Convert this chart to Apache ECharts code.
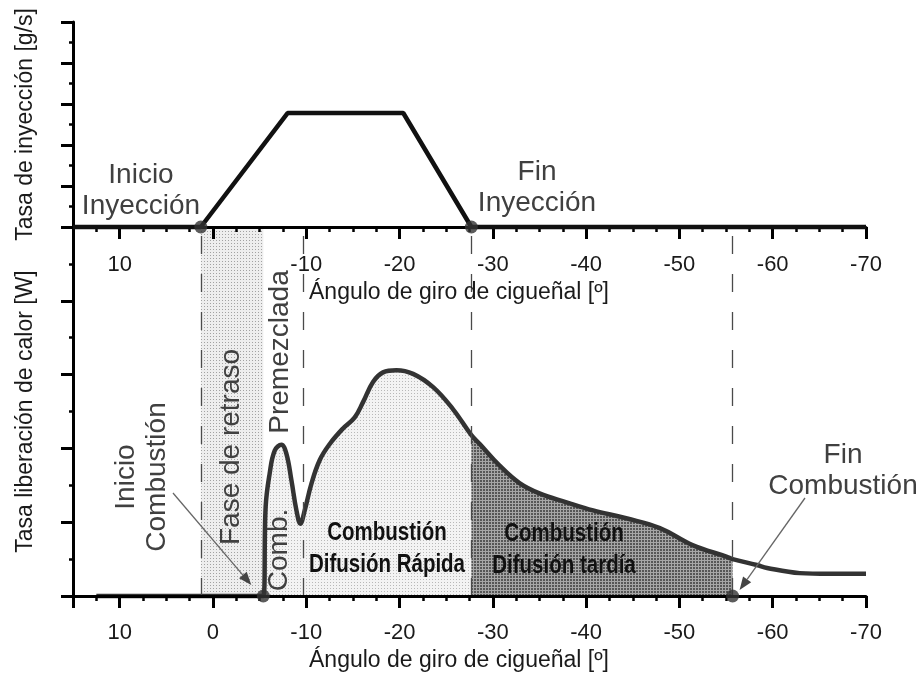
<!DOCTYPE html>
<html>
<head>
<meta charset="utf-8">
<script src="https://cdn.jsdelivr.net/npm/echarts@6/dist/echarts.min.js"></script>
<style>
  html, body { margin: 0; padding: 0; background: #fff; }
  #chart { width: 921px; height: 675px; }
</style>
</head>
<body>
<div id="chart"></div>
<script>
// Crank angle [deg] vs. injection rate (upper panel)
const injectionAngles = [15, 1.3, -8.0, -20.4, -27.7, -70];
const injectionRate   = [0, 0, 2.78, 2.78, 0, 0];

// Crank angle [deg] vs. heat release rate (lower panel)
const heatAngles = [12.5, -5.0, -5.4, -5.65, -6.08, -6.62, -7.34, -7.87, -8.41, -8.95, -9.37,
  -9.84, -10.55, -11.44, -12.52, -13.94, -15.2, -16.1, -17.16, -18.23, -19.67,
  -21.45, -23.6, -25.74, -27.7, -28.6, -30.7, -32.86, -35.0, -37.9, -40.75,
  -44.4, -47.9, -51.4, -55.1, -55.7, -58.3, -59.4, -62.9, -66.0, -70];
const heatRelease = [0, 0, 0, 1.21, 1.66, 1.97, 2.05, 1.93, 1.57, 1.16, 0.98,
  1.16, 1.52, 1.84, 2.06, 2.27, 2.42, 2.63, 2.90, 3.03, 3.06,
  3.01, 2.83, 2.53, 2.18, 2.06, 1.77, 1.53, 1.39, 1.27, 1.16,
  1.05, 0.92, 0.69, 0.53, 0.50, 0.42, 0.38, 0.31, 0.30, 0.30];

// Characteristic events [deg]
const injectionStart = 1.3;
const injectionEnd = -27.7;
const combustionStart = -5.4;
const premixEnd = -9.7;
const combustionEnd = -55.7;
const phaseLines = [injectionStart, premixEnd, injectionEnd, combustionEnd];

// Tick labels shown on each angle axis
const upperAngleLabels = [10, -10, -20, -30, -40, -50, -60, -70];
const lowerAngleLabels = [10, 0, -10, -20, -30, -40, -50, -60, -70];

const FONT = 'Liberation Sans, Arial, Helvetica, sans-serif';
const SMOOTH = 0.4;

// Small stipple tiles for the shaded phases
function tile(bg, fg, pixels, size) {
  const c = document.createElement('canvas');
  c.width = size; c.height = size;
  const ctx = c.getContext('2d');
  ctx.fillStyle = bg; ctx.fillRect(0, 0, size, size);
  ctx.fillStyle = fg;
  pixels.forEach(p => ctx.fillRect(p[0], p[1], 1, 1));
  return { image: c, repeat: 'repeat' };
}
const delayFill = tile('#eeeeee', '#a2a2a2', [[0, 0]], 3);
const rapidFill = tile('#f3f3f3', '#b8b8b8', [[0, 0]], 3);
const lateFill  = tile('#a6a6a6', '#575757', [[0, 0], [1, 0], [0, 1], [1, 1]], 3);

const heatPts = heatAngles.map((a, i) => [a, heatRelease[i]]);
const rapidPts = heatPts.filter(p => p[0] <= combustionStart && p[0] >= injectionEnd);
const latePts = heatPts.filter(p => p[0] <= injectionEnd && p[0] >= combustionEnd);
const injPts = injectionAngles.map((a, i) => [a, injectionRate[i]]);

function angleAxis(gridIndex, labels, margin, nameGap) {
  return {
    type: 'value', gridIndex, min: -70, max: 15, inverse: true, interval: 10, z: 5,
    axisLine: { show: true, onZero: false, lineStyle: { color: '#000', width: 3 } },
    axisTick: { show: true, length: 12, lineStyle: { color: '#000', width: 3 } },
    minorTick: { show: true, splitNumber: 4, length: 5, lineStyle: { color: '#000', width: 2.5 } },
    splitLine: { show: false },
    axisLabel: {
      margin, fontSize: 22, color: '#1a1a1a', fontFamily: FONT,
      formatter: v => labels.includes(v) ? String(v) : ''
    },
    name: 'Ángulo de giro de cigueñal [º]', nameLocation: 'middle', nameGap,
    nameTextStyle: { fontSize: 23, color: '#1a1a1a', fontFamily: FONT, padding: [0, 21, 0, 0] }
  };
}
function rateAxis(gridIndex, name, nameGap) {
  return {
    type: 'value', gridIndex, min: 0, max: 5, interval: 1, z: 5,
    axisLine: { show: true, onZero: false, lineStyle: { color: '#000', width: 3 } },
    axisTick: { show: true, length: 12, lineStyle: { color: '#000', width: 3 } },
    minorTick: { show: true, splitNumber: 2, length: 4, lineStyle: { color: '#000', width: 2.5 } },
    splitLine: { show: false },
    axisLabel: { show: false },
    name, nameLocation: 'middle', nameGap,
    nameTextStyle: { fontSize: 23, color: '#1a1a1a', fontFamily: FONT }
  };
}

const chart = echarts.init(document.getElementById('chart'), null, { renderer: 'canvas' });

chart.setOption({
  animation: false,
  backgroundColor: '#fff',
  grid: [
    { left: 73, width: 793, top: 22, height: 205, outerBoundsMode: 'none' },
    { left: 73, width: 793, top: 227, height: 369, outerBoundsMode: 'none' }
  ],
  xAxis: [
    angleAxis(0, upperAngleLabels, 27, 54),
    angleAxis(1, lowerAngleLabels, 26, 50)
  ],
  yAxis: [
    rateAxis(0, 'Tasa de inyección [g/s]', 36),
    rateAxis(1, 'Tasa liberación de calor [W]', 36)
  ],
  series: [
    {
      type: 'line', xAxisIndex: 0, yAxisIndex: 0, data: injPts, clip: false,
      showSymbol: false, z: 6,
      lineStyle: { color: '#111', width: 4.5 }
    },
    {
      type: 'scatter', xAxisIndex: 0, yAxisIndex: 0, clip: false, z: 8,
      data: [[injectionStart, 0], [injectionEnd, 0]],
      symbolSize: 13, itemStyle: { color: '#333' }
    },
    {
      // premixed + rapid diffusion combustion area, plus ignition delay band
      type: 'line', xAxisIndex: 1, yAxisIndex: 1, data: rapidPts, clip: false,
      smooth: SMOOTH, showSymbol: false, z: 2,
      lineStyle: { width: 0, opacity: 0 },
      areaStyle: { color: rapidFill, opacity: 1 },
      markArea: {
        silent: true,
        itemStyle: { color: delayFill },
        data: [[{ xAxis: injectionStart }, { xAxis: combustionStart }]]
      }
    },
    {
      // late diffusion combustion area
      type: 'line', xAxisIndex: 1, yAxisIndex: 1, data: latePts, clip: false,
      smooth: SMOOTH, showSymbol: false, z: 2,
      lineStyle: { width: 0, opacity: 0 },
      areaStyle: { color: lateFill, opacity: 1 }
    },
    {
      type: 'line', xAxisIndex: 1, yAxisIndex: 1, data: heatPts, clip: false,
      smooth: SMOOTH, showSymbol: false, z: 4,
      lineStyle: { color: '#333', width: 4.5 },
      markLine: {
        silent: true, symbol: ['none', 'none'], label: { show: false },
        lineStyle: { color: '#4a4a4a', width: 1.3, type: [18, 20] },
        data: phaseLines.map(v => ({ xAxis: v }))
      }
    },
    {
      type: 'scatter', xAxisIndex: 1, yAxisIndex: 1, clip: false, z: 8,
      data: [[combustionStart, 0], [combustionEnd, 0]],
      symbolSize: 13, itemStyle: { color: '#333' }
    }
  ]
});

// Annotations
const GRAY = '#404040';
function label(text, x, y, opts) {
  opts = opts || {};
  return {
    type: 'text', x, y, rotation: opts.rotate ? Math.PI / 2 : 0,
    scaleX: opts.scaleX || 1, z: 20,
    style: {
      text, fontSize: opts.size || 28, fontFamily: FONT, fontWeight: opts.bold ? 'bold' : 'normal',
      fill: opts.color || GRAY, align: 'center', verticalAlign: 'middle',
      lineHeight: opts.lineHeight || 31
    }
  };
}
function arrow(x1, y1, x2, y2) {
  const ang = Math.atan2(y2 - y1, x2 - x1);
  const L = 13, W = 5;
  const c = Math.cos(ang), s = Math.sin(ang);
  const bx = x2 - L * c, by = y2 - L * s;
  return [
    { type: 'line', z: 20, shape: { x1, y1, x2: bx, y2: by }, style: { stroke: '#666', lineWidth: 1.3 } },
    { type: 'polygon', z: 20, shape: { points: [[x2, y2], [bx + W * s, by - W * c], [bx - W * s, by + W * c]] },
      style: { fill: '#444' } }
  ];
}

const startPx = chart.convertToPixel({ xAxisIndex: 1, yAxisIndex: 1 }, [combustionStart, 0]);
const endPx = chart.convertToPixel({ xAxisIndex: 1, yAxisIndex: 1 }, [combustionEnd, 0]);

chart.setOption({
  graphic: [
    label('Inicio\nInyección', 141, 191),
    label('Fin\nInyección', 537, 188),
    label('Fin\nCombustión', 843, 471),
    label('Inicio\nCombustión', 142, 477, { rotate: true }),
    label('Fase de retraso', 231, 447, { rotate: true }),
    label('Premezclada', 280, 352, { rotate: true }),
    label('Comb.', 279, 550, { rotate: true }),
    label('Combustión\nDifusión Rápida', 387, 549, { bold: true, size: 25, scaleX: 0.82, color: '#111', lineHeight: 32 }),
    label('Combustión\nDifusión tardía', 564, 550, { bold: true, size: 25, scaleX: 0.82, color: '#111', lineHeight: 32 }),
    ...arrow(173, 493, startPx[0] - 12, startPx[1] - 11),
    ...arrow(805, 498, endPx[0] + 7, endPx[1] - 6)
  ]
});
</script>
</body>
</html>
